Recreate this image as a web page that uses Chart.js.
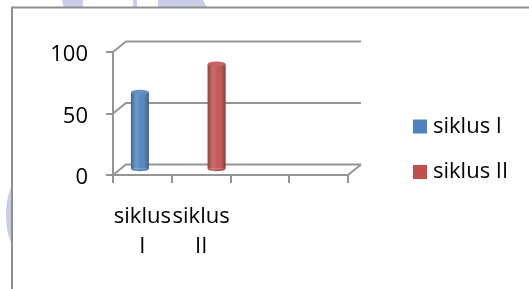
<!DOCTYPE html>
<html>
<head>
<meta charset="utf-8">
<script src="https://cdn.jsdelivr.net/npm/chart.js@4/dist/chart.umd.min.js"></script>
<style>
  html, body { margin: 0; padding: 0; background: #fff; }
  #wrap { width: 529px; height: 289px; position: relative; }
</style>
</head>
<body>
<div id="wrap"><canvas id="chart" width="529" height="289"></canvas></div>
<script>
// categories (two empty slots like the original sheet)
const categories = [['siklus', 'I'], ['siklus', 'II'], '', ''];
const siklus1Values = [63, null, null, null];
const siklus2Values = [null, 86, null, null];
const yTicks = [0, 50, 100];

const AXIS = '#959595';
const DX = 13, DY = -10.5;   // depth of the 3d box

// watermark outside the frame + the frame itself
const framePlugin = {
    id: 'frame',
    beforeDraw(chart) {
        const c = chart.ctx;
        c.save();
        c.beginPath();
        c.rect(0, 0, 529, 289);
        c.rect(13, 8, 516, 281);
        c.clip('evenodd');
        c.fillStyle = '#c9cde6';
        c.beginPath();
        c.moveTo(62, 0); c.lineTo(83, 0); c.lineTo(83, 8); c.lineTo(64, 8); c.closePath();
        c.fill();
        c.fillRect(133, 0, 4, 8);
        c.beginPath();
        c.moveTo(158, 0); c.lineTo(203, 0); c.lineTo(207, 8); c.lineTo(158, 8); c.closePath();
        c.fill();
        c.beginPath();
        c.ellipse(22, 215, 16, 38, 0, 0, Math.PI * 2);
        c.fill();
        c.restore();
        c.save();
        c.strokeStyle = '#8e8e8e';
        c.lineWidth = 2;
        c.beginPath();
        c.moveTo(12, 289); c.lineTo(12, 7.5); c.lineTo(529, 7.5);
        c.stroke();
        c.restore();
    }
};

// back wall lines + depth connectors, and shift bars to mid depth
const depthPlugin = {
    id: 'depth',
    beforeDatasetsDraw(chart) {
        const c = chart.ctx;
        const y = chart.scales.y;
        const {left, right, bottom} = chart.chartArea;
        c.save();
        c.strokeStyle = AXIS;
        c.lineWidth = 2;
        yTicks.forEach(v => {
            const py = y.getPixelForValue(v);
            c.beginPath();
            c.moveTo(left, py);
            c.lineTo(left + DX, py + DY);
            c.lineTo(right + DX, py + DY);
            c.stroke();
        });
        c.beginPath();
        c.moveTo(right, bottom);
        c.lineTo(right + DX, bottom + DY);
        c.stroke();
        c.restore();
        c.save();
        c.translate(DX / 2, DY / 2);
    },
    afterDatasetsDraw(chart) {
        const c = chart.ctx;
        chart.data.datasets.forEach((ds, i) => {
            const meta = chart.getDatasetMeta(i);
            meta.data.forEach((bar, idx) => {
                if (ds.data[idx] == null) return;
                const w = bar.width, x0 = bar.x - w / 2;
                const g = c.createLinearGradient(x0, 0, x0 + w, 0);
                g.addColorStop(0, 'rgba(0,0,0,0.25)');
                g.addColorStop(0.3, 'rgba(255,255,255,0.18)');
                g.addColorStop(0.55, 'rgba(255,255,255,0.05)');
                g.addColorStop(1, 'rgba(0,0,0,0.3)');
                c.fillStyle = g;
                c.fillRect(x0, bar.y, w, bar.base - bar.y);
                // bottom cap
                c.beginPath();
                c.ellipse(bar.x, bar.base, w / 2, 2.5, 0, 0, Math.PI);
                c.fillStyle = ds.backgroundColor;
                c.fill();
                c.fillStyle = g;
                c.fill();
                // top cap
                c.beginPath();
                c.ellipse(bar.x, bar.y, w / 2, 2.5, 0, 0, Math.PI * 2);
                c.fillStyle = ds.backgroundColor;
                c.fill();
                c.fillStyle = 'rgba(255,255,255,0.12)';
                c.fill();
            });
        });
        c.restore();
    }
};

// legend on the right
const legendPlugin = {
    id: 'sideLegend',
    afterDraw(chart) {
        const c = chart.ctx;
        c.save();
        c.font = '22px "Open Sans"';
        c.textBaseline = 'middle';
        chart.data.datasets.forEach((ds, i) => {
            const cy = 126.5 + i * 45.5;
            c.fillStyle = ds.backgroundColor;
            c.fillRect(413, cy - 7, 14, 14);
            c.fillStyle = '#000';
            c.fillText(ds.label, 433, cy);
        });
        c.restore();
    }
};

new Chart(document.getElementById('chart'), {
    type: 'bar',
    data: {
        labels: categories,
        datasets: [
            {
                label: 'siklus I',
                data: siklus1Values,
                backgroundColor: '#4f81bd',
                barPercentage: 1,
                categoryPercentage: 0.61
            },
            {
                label: 'siklus II',
                data: siklus2Values,
                backgroundColor: '#c0504d',
                barPercentage: 1,
                categoryPercentage: 0.61
            }
        ]
    },
    options: {
        responsive: false,
        animation: false,
        layout: {
            padding: { left: 0, top: 52, right: 181, bottom: 0 }
        },
        scales: {
            x: {
                grid: {
                    offset: true,
                    drawOnChartArea: false,
                    drawTicks: true,
                    tickLength: 8,
                    color: AXIS,
                    lineWidth: 2
                },
                border: { display: true, color: AXIS, width: 2 },
                ticks: {
                    color: '#000',
                    font: { family: 'Open Sans', size: 22, lineHeight: 1.4 },
                    padding: 18,
                    maxRotation: 0,
                    autoSkip: false
                },
                afterFit: s => { s.height = 114; }
            },
            y: {
                min: 0,
                max: 100,
                grid: {
                    drawOnChartArea: false,
                    drawTicks: true,
                    tickLength: 7,
                    color: AXIS,
                    lineWidth: 2
                },
                border: { display: true, color: AXIS, width: 2 },
                ticks: {
                    stepSize: 50,
                    color: '#000',
                    font: { family: 'Open Sans', size: 22 },
                    padding: 18,
                    labelOffset: 3
                },
                afterFit: s => { s.width = 113; }
            }
        },
        plugins: {
            legend: { display: false },
            tooltip: { enabled: false }
        }
    },
    plugins: [framePlugin, depthPlugin, legendPlugin]
});
</script>
</body>
</html>
